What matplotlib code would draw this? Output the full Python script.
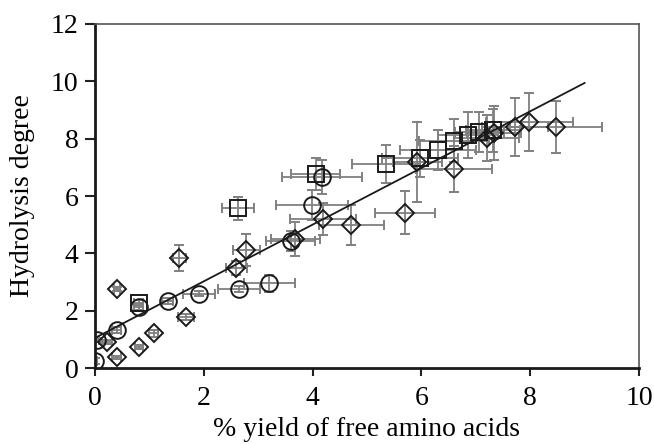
import matplotlib
matplotlib.use('Agg')
import matplotlib.pyplot as plt

# circles
circ_x = [0.00, 0.03, 0.40, 0.80, 1.34, 1.91, 2.65, 3.20, 3.60, 3.99, 4.17]
circ_y = [0.25, 0.98, 1.33, 2.13, 2.34, 2.60, 2.76, 2.96, 4.43, 5.69, 6.66]
circ_xerr = [0.03, 0.05, 0.08, 0.08, 0.10, 0.30, 0.38, 0.47, 0.45, 0.66, 0.73]
circ_yerr = [0.10, 0.08, 0.10, 0.12, 0.10, 0.10, 0.10, 0.30, 0.35, 0.52, 0.60]

# squares
sq_x = [0.80, 2.63, 4.06, 5.35, 5.97, 6.30, 6.60, 6.86, 7.06, 7.32]
sq_y = [2.27, 5.58, 6.77, 7.12, 7.32, 7.60, 7.92, 8.13, 8.23, 8.30]
sq_xerr = [0.08, 0.30, 0.45, 0.62, 0.70, 0.70, 0.65, 0.55, 0.45, 0.50]
sq_yerr = [0.12, 0.40, 0.55, 0.66, 0.65, 0.70, 0.75, 0.80, 0.70, 0.75]

# diamonds
dia_x = [0.40, 0.22, 0.40, 0.81, 1.08, 1.67, 1.55, 2.60, 2.78, 3.68,
         4.19, 4.71, 5.70, 5.92, 6.60, 7.20, 7.33, 7.72, 7.98, 8.47]
dia_y = [0.38, 0.91, 2.76, 0.73, 1.22, 1.78, 3.84, 3.49, 4.12, 4.50,
         5.20, 4.99, 5.41, 7.19, 6.94, 8.02, 8.20, 8.41, 8.58, 8.41]
dia_xerr = [0.08, 0.10, 0.05, 0.08, 0.08, 0.15, 0.12, 0.20, 0.25, 0.45,
            0.60, 0.60, 0.55, 0.45, 0.70, 0.60, 0.50, 0.60, 0.80, 0.85]
dia_yerr = [0.05, 0.08, 0.08, 0.08, 0.12, 0.10, 0.45, 0.25, 0.55, 0.60,
            0.55, 0.70, 0.75, 1.40, 0.80, 0.80, 0.95, 1.00, 1.00, 0.90]

# linear fit
fit_x = [0.0, 9.0]
fit_slope = 0.988
fit_intercept = 1.05

x_ticks = [0, 2, 4, 6, 8, 10]
y_ticks = [0, 2, 4, 6, 8, 10, 12]

plt.rcParams['font.family'] = ['Liberation Serif', 'DejaVu Serif']

fig = plt.figure(figsize=(6.54, 4.44), dpi=100)
ax = fig.add_axes([0.1453, 0.171, 0.8317, 0.775])

err_kw = dict(ecolor='#808080', elinewidth=1.3, capsize=3.5, capthick=1.3, linestyle='none')
ax.errorbar(circ_x, circ_y, xerr=circ_xerr, yerr=circ_yerr, marker='o', ms=12,
            mfc='none', mec='#1a1a1a', mew=1.4, **err_kw)
ax.errorbar(sq_x, sq_y, xerr=sq_xerr, yerr=sq_yerr, marker='s', ms=11.5,
            mfc='none', mec='#1a1a1a', mew=1.4, **err_kw)
ax.errorbar(dia_x, dia_y, xerr=dia_xerr, yerr=dia_yerr, marker='D', ms=9,
            mfc='none', mec='#1a1a1a', mew=1.4, **err_kw)

fit_y = [fit_slope * v + fit_intercept for v in fit_x]
ax.plot(fit_x, fit_y, color='#1a1a1a', lw=1.3)

ax.set_xlim(0, 10)
ax.set_ylim(0, 12)
ax.set_xticks(x_ticks)
ax.set_yticks(y_ticks)
ax.tick_params(direction='out', width=1.5, labelsize=20, color='#222222')
ax.tick_params(axis='y', length=7, pad=5)
ax.tick_params(axis='x', length=6, pad=7)

for side in ['left', 'bottom']:
    ax.spines[side].set_linewidth(2)
    ax.spines[side].set_color('#1a1a1a')
for side in ['top', 'right']:
    ax.spines[side].set_linewidth(1.2)
    ax.spines[side].set_color('#555555')

ax.set_xlabel('% yield of free amino acids', fontsize=20, labelpad=4)
ax.set_ylabel('Hydrolysis degree', fontsize=20, labelpad=11)

fig.savefig('out.png', dpi=100)
